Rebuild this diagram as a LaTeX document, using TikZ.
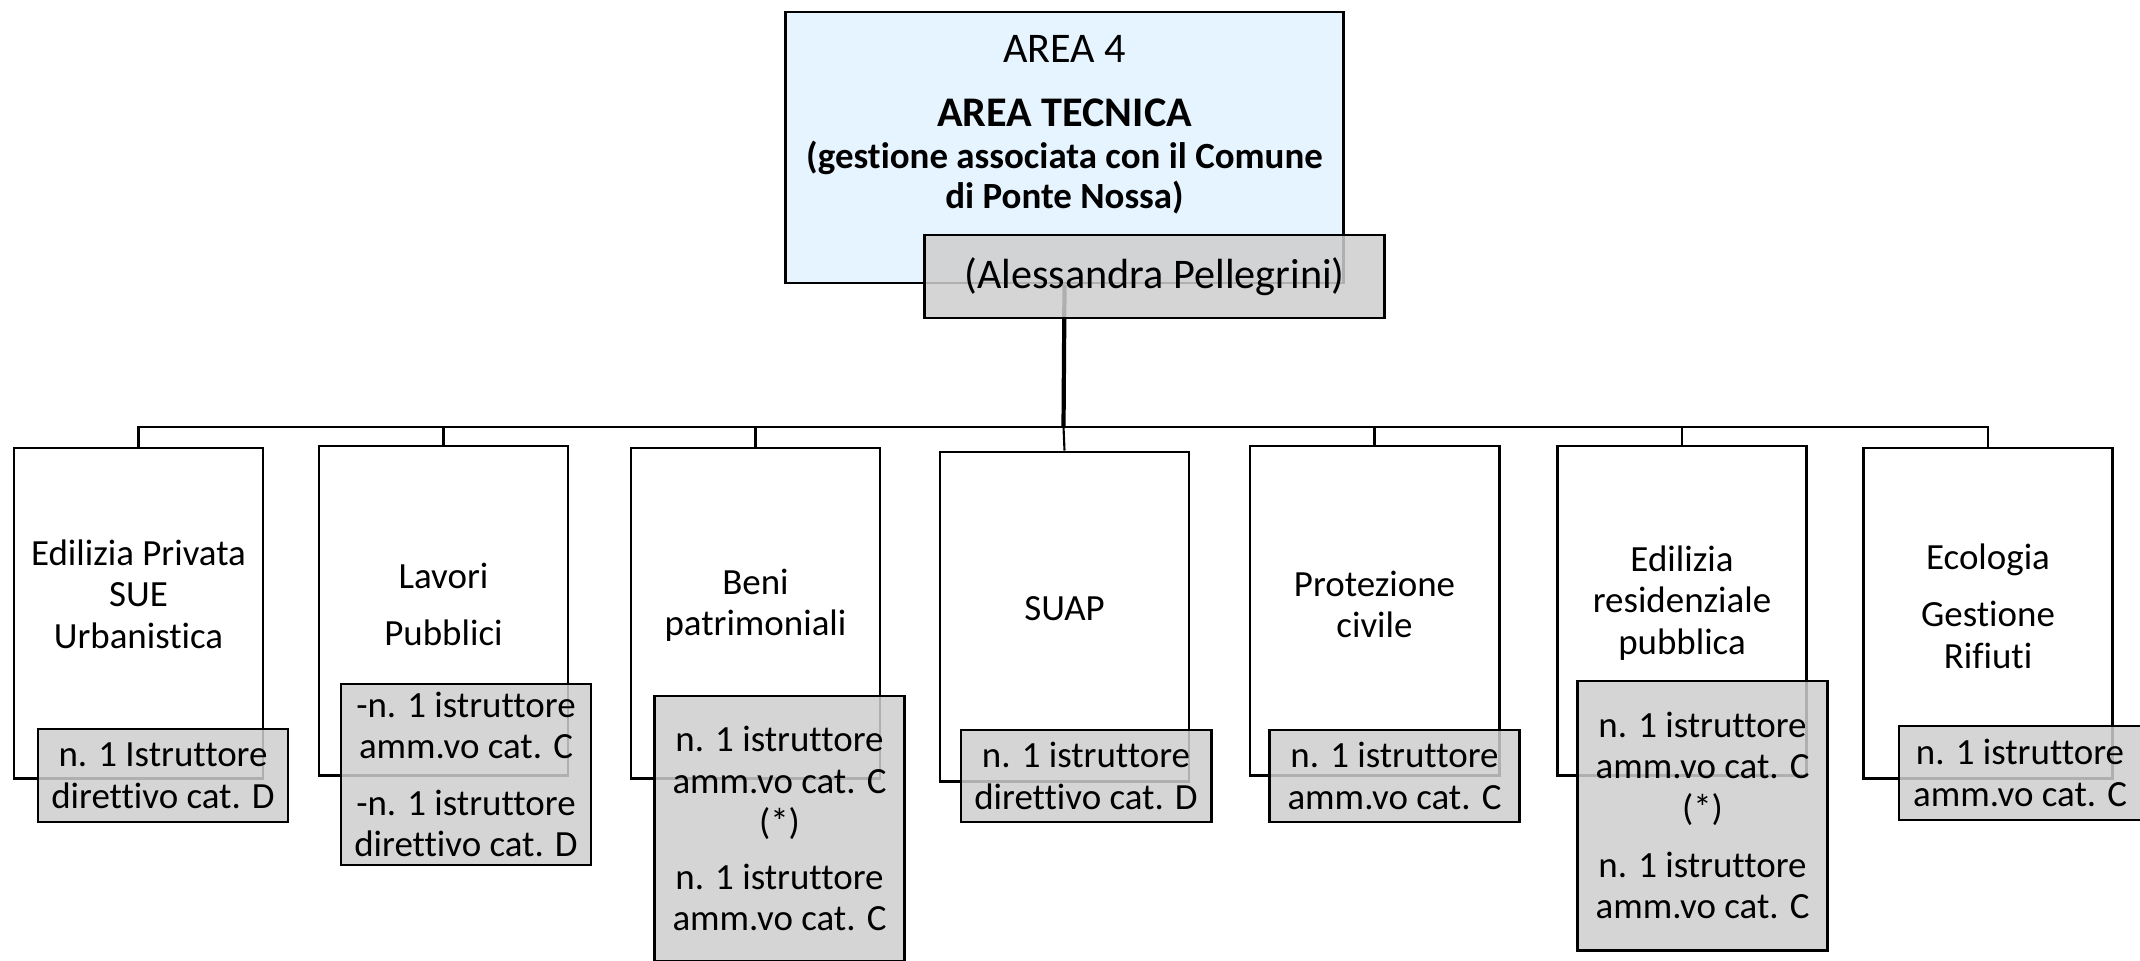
\documentclass[tikz,border=0pt]{standalone}
\usepackage{fontspec}
\setmainfont{Carlito}[Ligatures=NoCommon]

\definecolor{areablau}{RGB}{230,244,255}
\definecolor{personalgrau}{RGB}{206,206,206}

\begin{document}
\begin{tikzpicture}[x=0.01cm, y=-0.01cm,
    bereich/.style={draw, line width=0.8pt, fill=white, minimum width=2.49cm, minimum height=3.30cm},
    beschriftung/.style={align=center, font=\fontsize{10.5}{11.8}\selectfont},
    personal/.style={draw, line width=0.8pt, fill=personalgrau, fill opacity=0.85, text opacity=1,
        inner sep=0pt, align=center, minimum width=2.50cm, font=\fontsize{10.5}{11.8}\selectfont},
    verbindung/.style={line width=0.6pt},
    stamm/.style={line width=1.2pt}]
    \useasboundingbox (0,0) rectangle (2140,960);

    % Kopf: Bereich und Leitung
    \node[draw, line width=0.8pt, fill=areablau, minimum width=5.57cm, minimum height=2.71cm] (area) at (1064.5,147.5) {};
    \node[font=\fontsize{12}{14}\selectfont] (areanr) at (1064.5,49) {AREA 4};
    \node[font=\bfseries\fontsize{12}{14}\selectfont] (areatitel) at (1064.5,113) {AREA TECNICA};
    \node[align=center, font=\bfseries\fontsize{10.5}{11.6}\selectfont] (areazusatz) at (1064.5,177.5) {(gestione associata con il Comune\\di Ponte Nossa)};
    \coordinate (bus) at (1063.5,427);
    \draw[stamm] (area.south) -- (bus);
    \node[personal, font=\fontsize{12}{14}\selectfont, minimum width=4.59cm, minimum height=0.83cm] (leitung) at (1154.5,276.5) {(Alessandra Pellegrini)};

    % Bereiche
    \node[bereich] (edil) at (138.5,613) {};
    \node[bereich, minimum height=3.29cm] (lavori) at (443.5,610.5) {};
    \node[bereich] (beni) at (755.5,613) {};
    \node[bereich, minimum height=3.29cm] (suap) at (1064.5,616.5) {};
    \node[bereich, minimum height=3.29cm] (protezione) at (1374.5,610.5) {};
    \node[bereich, minimum height=3.29cm] (erp) at (1682,610.5) {};
    \node[bereich] (ecologia) at (1988,613) {};

    \node[beschriftung] (tedil) at (138.5,594) {Edilizia Privata\\SUE\\Urbanistica};
    \node[beschriftung] (tlavori) at (443.5,604.5) {Lavori\\[4.5pt]Pubblici};
    \node[beschriftung] (tbeni) at (755.5,605.5) {Beni\\patrimoniali};
    \node[beschriftung] (tsuap) at (1064.5,609) {SUAP};
    \node[beschriftung] (tprotezione) at (1374.5,604.5) {Protezione\\civile};
    \node[beschriftung] (terp) at (1682,603) {Edilizia\\residenziale\\pubblica};
    \node[beschriftung] (tecologia) at (1988,606) {Ecologia\\[4.5pt]Gestione\\Rifiuti};

    % Verbindungen
    \draw[verbindung] (bus) -| (edil.north);
    \draw[verbindung] (bus) -| (lavori.north);
    \draw[verbindung] (bus) -| (beni.north);
    \draw[verbindung] (bus) -- (suap.north);
    \draw[verbindung] (bus) -| (protezione.north);
    \draw[verbindung] (bus) -| (erp.north);
    \draw[verbindung] (bus) -| (ecologia.north);

    % Personal
    \node[personal, minimum height=0.93cm] (pedil) at (163,775.5) {n. 1 Istruttore\\direttivo cat. D};
    \node[personal, minimum height=1.81cm] (plavori) at (466,774.5) {-n. 1 istruttore\\amm.vo cat. C\\[4.3pt]-n. 1 istruttore\\direttivo cat. D};
    \node[personal, minimum height=2.65cm] (pbeni) at (779.5,828.5) {n. 1 istruttore\\amm.vo cat. C\\(*)\\[3.7pt]n. 1 istruttore\\amm.vo cat. C};
    \node[personal, minimum height=0.92cm] (psuap) at (1086,776) {n. 1 istruttore\\direttivo cat. D};
    \node[personal, minimum height=0.92cm] (pprotezione) at (1394.5,776) {n. 1 istruttore\\amm.vo cat. C};
    \node[personal, minimum height=2.69cm] (perp) at (1702.5,815.5) {n. 1 istruttore\\amm.vo cat. C\\(*)\\[4.5pt]n. 1 istruttore\\amm.vo cat. C};
    \node[personal, minimum width=2.42cm, minimum height=0.94cm] (pecologia) at (2020,773) {n. 1 istruttore\\amm.vo cat. C};
\end{tikzpicture}
\end{document}
